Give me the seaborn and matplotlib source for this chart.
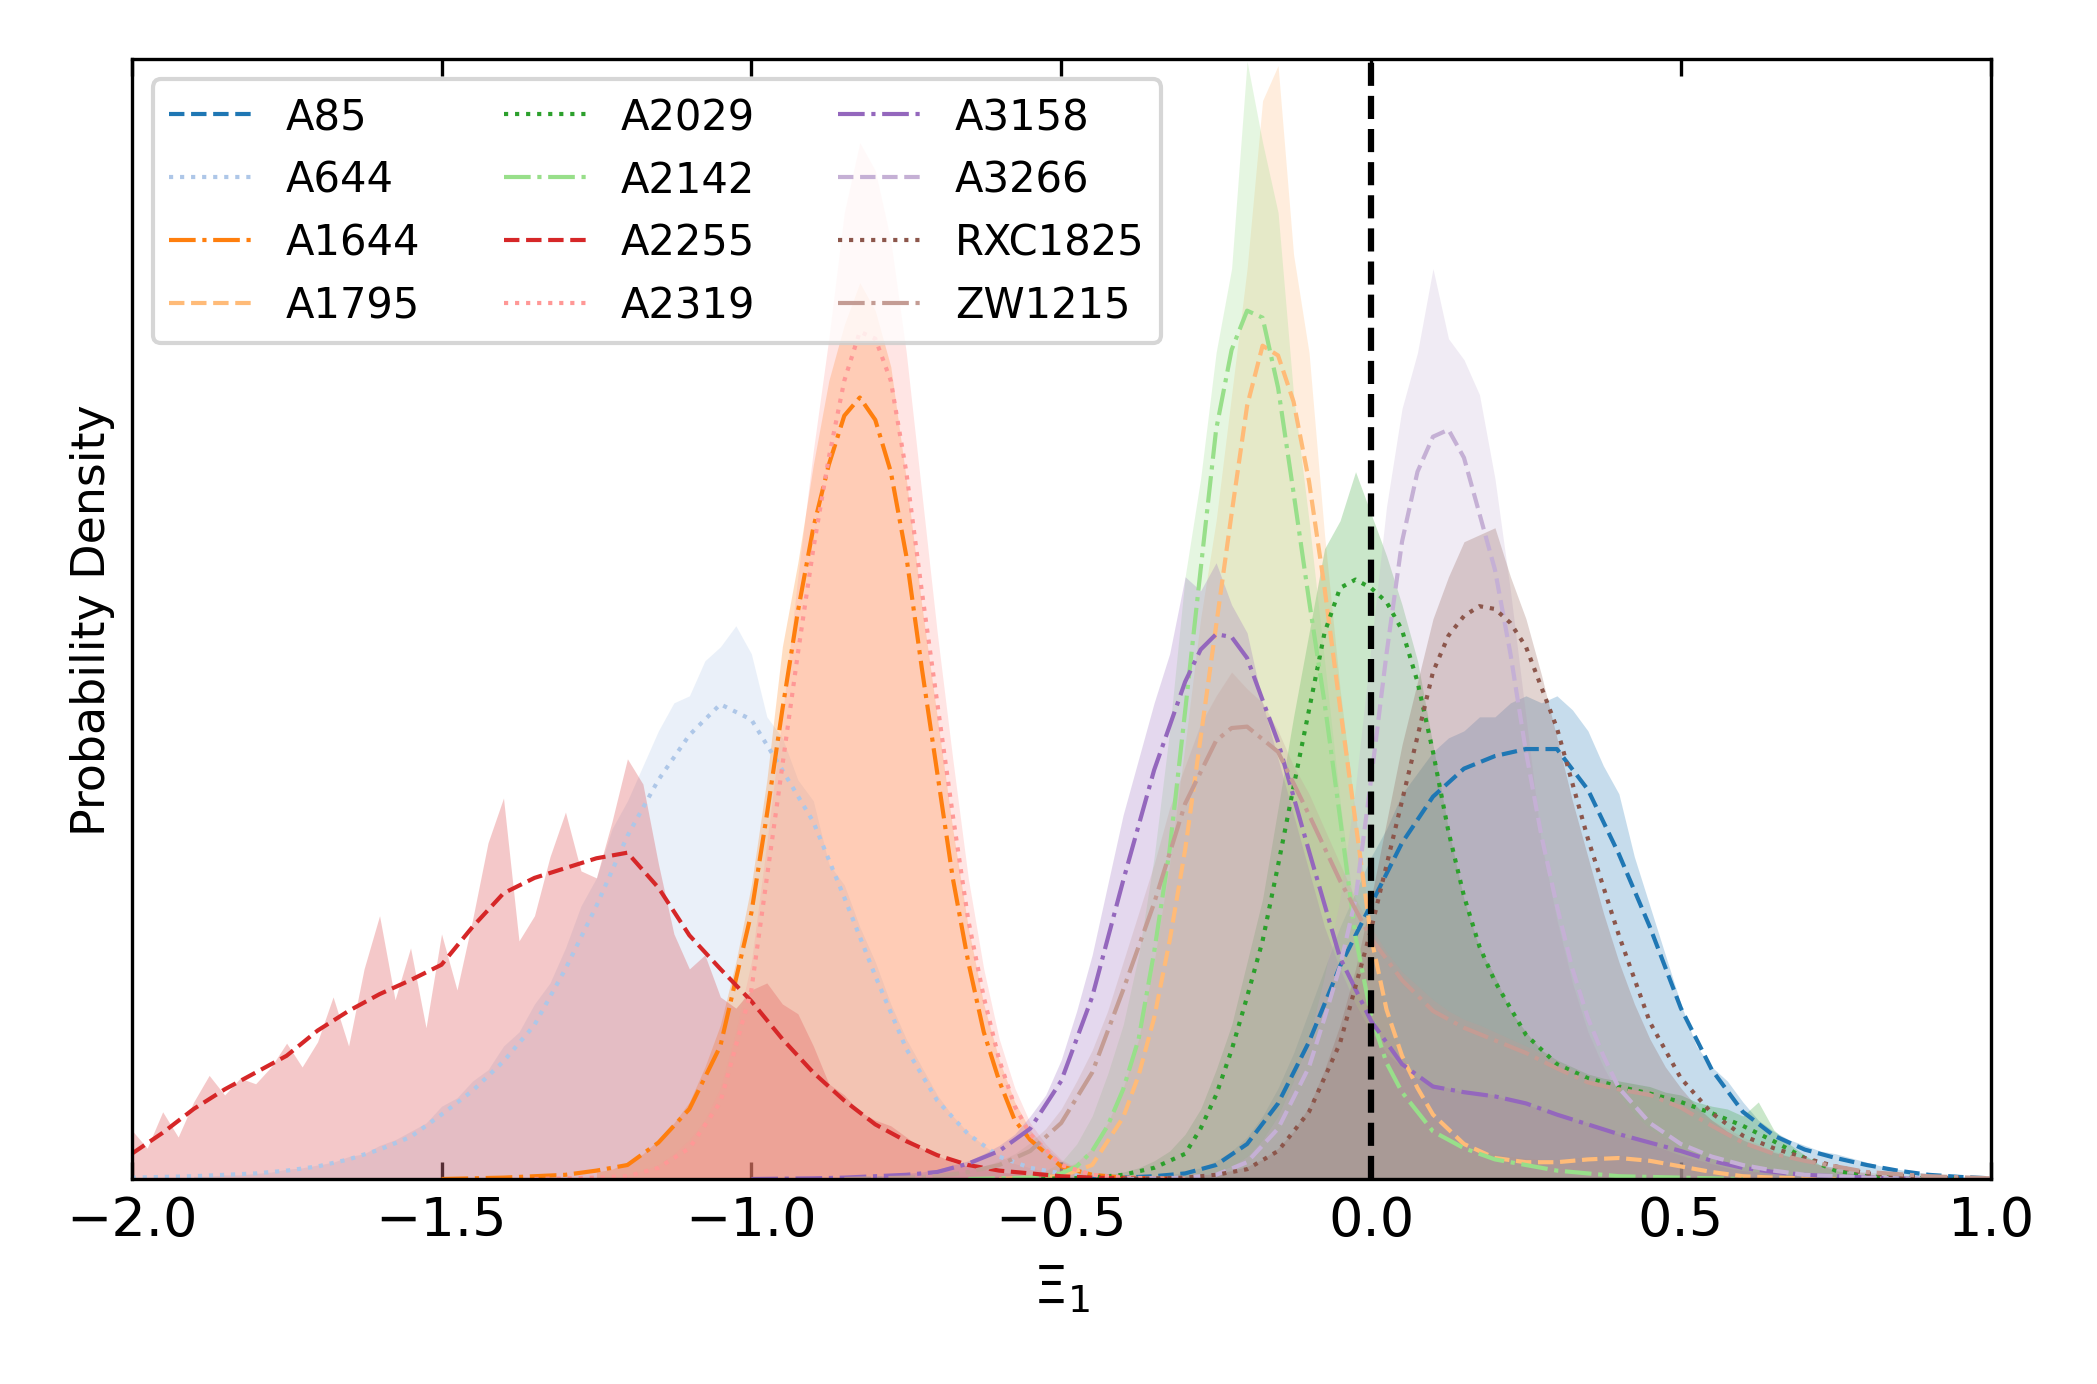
import numpy as np
import matplotlib
matplotlib.use("Agg")
import matplotlib.pyplot as plt
import seaborn as sns

# cluster names, in legend order
clusters = ["A85", "A644", "A1644", "A1795", "A2029", "A2142",
            "A2255", "A2319", "A3158", "A3266", "RXC1825", "ZW1215"]

# smoothed density curves
a85_kde_x = [-0.45, -0.35, -0.3, -0.25, -0.2, -0.15, -0.1, -0.05, 0.0, 0.05, 0.1, 0.15, 0.2, 0.25, 0.3,
             0.35, 0.4, 0.45, 0.5, 0.55, 0.6, 0.65, 0.7, 0.75, 0.8, 0.85, 0.9, 0.95, 1.0]
a85_kde_y = [0.0, 0.02, 0.04, 0.10, 0.25, 0.54, 0.98, 1.52, 1.96, 2.40, 2.73, 2.93, 3.02, 3.07, 3.07,
             2.78, 2.32, 1.80, 1.22, 0.78, 0.48, 0.31, 0.21, 0.15, 0.10, 0.06, 0.03, 0.015, 0.005]

a644_kde_x = [-2.0, -1.95, -1.9, -1.85, -1.8, -1.75, -1.7, -1.65, -1.6, -1.55, -1.5, -1.45, -1.4, -1.35, -1.3,
              -1.25, -1.2, -1.15, -1.1, -1.05, -1.0, -0.95, -0.9, -0.85, -0.8, -0.75, -0.7, -0.65, -0.6,
              -0.55, -0.5, -0.45, -0.4]
a644_kde_y = [0.01, 0.015, 0.02, 0.03, 0.04, 0.06, 0.09, 0.14, 0.21, 0.30, 0.46, 0.63, 0.84, 1.10, 1.50,
              1.95, 2.45, 2.85, 3.17, 3.39, 3.28, 2.92, 2.55, 2.01, 1.45, 0.93, 0.56, 0.32, 0.16,
              0.08, 0.04, 0.01, 0.0]

a1644_kde_x = [-1.5, -1.4, -1.35, -1.3, -1.25, -1.2, -1.15, -1.1, -1.05, -1.0, -0.975, -0.95, -0.925, -0.9,
               -0.875, -0.85, -0.825, -0.8, -0.775, -0.75, -0.725, -0.7, -0.675, -0.65, -0.625, -0.6,
               -0.575, -0.55, -0.5, -0.45, -0.4, -0.3]
a1644_kde_y = [0.0, 0.01, 0.02, 0.03, 0.06, 0.10, 0.26, 0.50, 0.95, 1.90, 2.60, 3.35, 4.05, 4.65,
               5.10, 5.45, 5.58, 5.42, 5.05, 4.45, 3.65, 2.90, 2.15, 1.55, 1.05, 0.70,
               0.42, 0.28, 0.09, 0.03, 0.01, 0.0]

a1795_kde_x = [-0.6, -0.5, -0.45, -0.4, -0.375, -0.35, -0.325, -0.3, -0.275, -0.25, -0.225, -0.2, -0.175, -0.15,
               -0.125, -0.1, -0.075, -0.05, -0.025, 0.0, 0.025, 0.05, 0.075, 0.1, 0.15, 0.2, 0.25, 0.3, 0.35,
               0.4, 0.45, 0.5, 0.55, 0.6, 0.65, 0.75]
a1795_kde_y = [0.0, 0.02, 0.10, 0.44, 0.74, 1.15, 1.70, 2.35, 3.15, 3.95, 4.75, 5.52, 5.95, 5.88,
               5.55, 4.98, 4.22, 3.37, 2.55, 1.73, 1.21, 0.88, 0.65, 0.46, 0.25, 0.15, 0.12, 0.12, 0.14,
               0.15, 0.13, 0.09, 0.05, 0.02, 0.01, 0.0]

a2029_kde_x = [-0.55, -0.45, -0.4, -0.35, -0.3, -0.275, -0.25, -0.225, -0.2, -0.175, -0.15, -0.125, -0.1, -0.075,
               -0.05, -0.025, 0.0, 0.025, 0.05, 0.075, 0.1, 0.125, 0.15, 0.175, 0.2, 0.25, 0.3, 0.35, 0.4,
               0.45, 0.5, 0.55, 0.6, 0.65, 0.7, 0.75, 0.8, 0.85, 0.95]
a2029_kde_y = [0.0, 0.01, 0.03, 0.08, 0.18, 0.36, 0.60, 0.92, 1.30, 1.70, 2.24, 2.80, 3.35, 3.90,
               4.22, 4.28, 4.22, 4.12, 3.92, 3.55, 3.05, 2.48, 2.02, 1.66, 1.41, 1.03, 0.82, 0.72, 0.66,
               0.61, 0.55, 0.47, 0.38, 0.27, 0.15, 0.06, 0.02, 0.01, 0.0]

a2142_kde_x = [-0.65, -0.55, -0.5, -0.475, -0.45, -0.425, -0.4, -0.375, -0.35, -0.325, -0.3, -0.275, -0.25,
               -0.225, -0.2, -0.175, -0.15, -0.125, -0.1, -0.075, -0.05, -0.025, 0.0, 0.025, 0.05, 0.1,
               0.15, 0.2, 0.3, 0.4, 0.5, 0.6]
a2142_kde_y = [0.0, 0.01, 0.04, 0.09, 0.20, 0.38, 0.64, 1.00, 1.62, 2.35, 3.34, 4.35, 5.35,
               5.92, 6.20, 6.15, 5.65, 4.90, 4.13, 3.40, 2.58, 1.73, 1.17, 0.83, 0.62, 0.34,
               0.22, 0.14, 0.06, 0.02, 0.01, 0.0]

a2255_kde_x = [-2.0, -1.95, -1.9, -1.85, -1.8, -1.75, -1.7, -1.65, -1.6, -1.55, -1.5, -1.45, -1.4, -1.35,
               -1.3, -1.25, -1.2, -1.15, -1.1, -1.05, -1.0, -0.95, -0.9, -0.85, -0.8, -0.75, -0.7, -0.65,
               -0.6, -0.55, -0.5, -0.45, -0.4, -0.3]
a2255_kde_y = [0.18, 0.33, 0.50, 0.64, 0.76, 0.88, 1.06, 1.20, 1.32, 1.42, 1.53, 1.80, 2.04, 2.15,
               2.22, 2.29, 2.33, 2.08, 1.74, 1.50, 1.27, 1.00, 0.76, 0.56, 0.39, 0.27, 0.17, 0.10,
               0.06, 0.04, 0.02, 0.01, 0.005, 0.0]

a2319_kde_x = [-1.35, -1.25, -1.2, -1.15, -1.1, -1.05, -1.0, -0.975, -0.95, -0.925, -0.9, -0.875, -0.85, -0.825,
               -0.8, -0.775, -0.75, -0.725, -0.7, -0.675, -0.65, -0.625, -0.6, -0.575, -0.55, -0.5, -0.45,
               -0.4, -0.3]
a2319_kde_y = [0.0, 0.01, 0.02, 0.08, 0.22, 0.55, 1.35, 2.15, 2.95, 3.75, 4.50, 5.15, 5.70, 6.05,
               6.00, 5.70, 5.05, 4.20, 3.40, 2.60, 1.85, 1.30, 0.85, 0.52, 0.32, 0.10, 0.03,
               0.01, 0.0]

a3158_kde_x = [-1.0, -0.9, -0.85, -0.8, -0.75, -0.7, -0.65, -0.6, -0.55, -0.5, -0.45, -0.4, -0.35, -0.3, -0.275,
               -0.25, -0.225, -0.2, -0.15, -0.1, -0.05, 0.0, 0.05, 0.1, 0.15, 0.2, 0.25, 0.3, 0.35, 0.4,
               0.45, 0.5, 0.55, 0.6, 0.65, 0.7, 0.8, 0.9]
a3158_kde_y = [0.0, 0.005, 0.01, 0.02, 0.03, 0.05, 0.11, 0.20, 0.36, 0.70, 1.30, 2.13, 2.92, 3.55, 3.78,
               3.89, 3.87, 3.72, 3.12, 2.34, 1.58, 1.13, 0.82, 0.66, 0.62, 0.59, 0.54, 0.46, 0.39, 0.32,
               0.26, 0.20, 0.13, 0.08, 0.05, 0.03, 0.01, 0.0]

a3266_kde_x = [-0.4, -0.3, -0.25, -0.2, -0.15, -0.1, -0.075, -0.05, -0.025, 0.0, 0.025, 0.05, 0.075, 0.1,
               0.125, 0.15, 0.175, 0.2, 0.225, 0.25, 0.275, 0.3, 0.325, 0.35, 0.375, 0.4, 0.45, 0.5, 0.55,
               0.6, 0.65, 0.7, 0.8, 0.9]
a3266_kde_y = [0.0, 0.01, 0.03, 0.12, 0.36, 0.80, 1.15, 1.52, 2.00, 2.85, 3.75, 4.55, 5.05, 5.30,
               5.35, 5.15, 4.75, 4.35, 3.75, 3.05, 2.45, 1.95, 1.50, 1.15, 0.88, 0.65, 0.40, 0.25, 0.16,
               0.10, 0.06, 0.03, 0.01, 0.0]

rxc1825_kde_x = [-0.4, -0.3, -0.25, -0.2, -0.15, -0.1, -0.05, 0.0, 0.05, 0.1, 0.125, 0.15, 0.175, 0.2, 0.225,
                 0.25, 0.3, 0.35, 0.4, 0.45, 0.5, 0.55, 0.6, 0.65, 0.7, 0.75, 0.8, 0.9, 1.0]
rxc1825_kde_y = [0.0, 0.01, 0.03, 0.07, 0.20, 0.48, 0.97, 1.78, 2.70, 3.62, 3.88, 4.02, 4.09, 4.07, 3.97,
                 3.80, 3.22, 2.43, 1.74, 1.12, 0.72, 0.47, 0.31, 0.22, 0.15, 0.09, 0.04, 0.01, 0.0]

zw1215_kde_x = [-0.85, -0.75, -0.7, -0.65, -0.6, -0.55, -0.5, -0.45, -0.4, -0.35, -0.3, -0.25, -0.225, -0.2,
                -0.15, -0.1, -0.05, 0.0, 0.05, 0.1, 0.15, 0.2, 0.25, 0.3, 0.35, 0.4, 0.45, 0.5, 0.55, 0.6,
                0.65, 0.7, 0.8, 0.9, 1.0]
zw1215_kde_y = [0.0, 0.01, 0.02, 0.05, 0.10, 0.20, 0.40, 0.76, 1.35, 1.97, 2.68, 3.13, 3.22, 3.23,
                3.05, 2.60, 2.13, 1.72, 1.42, 1.20, 1.08, 0.99, 0.90, 0.79, 0.69, 0.64, 0.60, 0.51, 0.38,
                0.26, 0.18, 0.13, 0.05, 0.02, 0.005]

# raw histogram heights, one value every HIST_STEP from the given start
HIST_STEP = 0.025

a85_hist_start = -0.35
a85_hist = [0.02, 0.03, 0.05, 0.08, 0.13, 0.20, 0.30, 0.45, 0.65, 0.90, 1.20, 1.50, 1.80, 2.05,
            2.30, 2.50, 2.75, 2.90, 3.05, 3.15, 3.20, 3.30, 3.30, 3.40, 3.45, 3.40, 3.45, 3.35,
            3.20, 2.95, 2.75, 2.30, 1.95, 1.60, 1.25, 0.95, 0.80, 0.70, 0.55, 0.42, 0.34, 0.28,
            0.24, 0.20, 0.18, 0.15, 0.12, 0.09, 0.07, 0.05, 0.04, 0.03, 0.02, 0.01, 0.00]

a644_hist_start = -1.9
a644_hist = [0.02, 0.02, 0.03, 0.03, 0.04, 0.05, 0.07, 0.08, 0.10, 0.12, 0.16, 0.18, 0.24, 0.28,
             0.34, 0.40, 0.52, 0.58, 0.70, 0.78, 0.95, 1.05, 1.25, 1.40, 1.65, 1.95, 2.15, 2.50,
             2.70, 2.95, 3.20, 3.40, 3.45, 3.70, 3.80, 3.95, 3.75, 3.30, 3.15, 2.85, 2.70, 2.25,
             2.10, 1.80, 1.55, 1.25, 1.00, 0.80, 0.60, 0.45, 0.33, 0.24, 0.16, 0.11, 0.08, 0.05, 0.03]

a1644_hist_start = -1.25
a1644_hist = [0.05, 0.07, 0.12, 0.18, 0.28, 0.40, 0.55, 0.80, 1.10, 1.55, 2.10, 2.85, 3.80, 4.40,
              5.10, 5.70, 6.10, 6.40, 6.20, 5.80, 5.00, 4.10, 3.30, 2.50, 1.80, 1.25, 0.85, 0.55,
              0.35, 0.22, 0.13, 0.07, 0.04]

a1795_hist_start = -0.55
a1795_hist = [0.02, 0.04, 0.07, 0.12, 0.22, 0.40, 0.65, 1.00, 1.55, 2.25, 3.10, 4.00, 4.70, 5.60,
              6.50, 7.70, 7.95, 6.60, 5.90, 4.60, 3.50, 2.60, 1.75, 1.20, 0.90, 0.62, 0.45, 0.32,
              0.25, 0.20, 0.18, 0.16, 0.15, 0.14, 0.14, 0.15, 0.16, 0.17, 0.17, 0.16, 0.14, 0.12,
              0.09, 0.07, 0.05, 0.04, 0.03, 0.02, 0.01, 0.01, 0.00]

a2029_hist_start = -0.45
a2029_hist = [0.02, 0.03, 0.05, 0.08, 0.13, 0.20, 0.32, 0.50, 0.78, 1.10, 1.55, 2.00, 2.65, 3.30,
              3.90, 4.50, 4.70, 5.05, 4.75, 4.45, 4.10, 3.70, 3.10, 2.50, 2.00, 1.65, 1.45, 1.20,
              1.05, 0.92, 0.85, 0.80, 0.75, 0.72, 0.70, 0.68, 0.66, 0.62, 0.60, 0.55, 0.52, 0.50,
              0.45, 0.55, 0.35, 0.25, 0.17, 0.10, 0.06, 0.04, 0.02, 0.01, 0.00]

a2142_hist_start = -0.55
a2142_hist = [0.03, 0.06, 0.12, 0.25, 0.45, 0.75, 1.10, 1.60, 2.30, 3.20, 4.30, 5.00, 5.90, 6.50,
              7.98, 7.40, 6.90, 5.60, 4.70, 3.70, 2.70, 1.85, 1.25, 0.85, 0.60, 0.45, 0.35, 0.27,
              0.21, 0.17, 0.14, 0.11, 0.09, 0.07, 0.05, 0.04, 0.03, 0.02, 0.02, 0.01, 0.00]

a2255_hist_start = -2.0
a2255_hist = [0.35, 0.22, 0.48, 0.30, 0.55, 0.74, 0.60, 0.72, 0.68, 0.80, 0.97, 0.80, 0.98, 1.30,
              0.95, 1.50, 1.88, 1.28, 1.65, 1.08, 1.75, 1.35, 1.85, 2.40, 2.72, 1.70, 1.88, 2.30,
              2.62, 2.20, 2.15, 2.55, 3.00, 2.82, 2.25, 1.75, 1.50, 1.60, 1.30, 1.22, 1.35, 1.40,
              1.25, 1.18, 0.95, 0.68, 0.60, 0.48, 0.42, 0.38, 0.30, 0.22, 0.17, 0.12, 0.09, 0.07,
              0.05, 0.04, 0.03, 0.02, 0.01]

a2319_hist_start = -1.2
a2319_hist = [0.03, 0.06, 0.10, 0.18, 0.28, 0.42, 0.65, 1.05, 1.55, 2.40, 3.30, 4.30, 5.20, 6.00,
              6.90, 7.40, 7.20, 6.70, 5.90, 4.90, 3.90, 3.00, 2.15, 1.50, 1.00, 0.65, 0.40, 0.25,
              0.14, 0.08, 0.04]

a3158_hist_start = -0.8
a3158_hist = [0.02, 0.03, 0.04, 0.05, 0.07, 0.10, 0.13, 0.18, 0.24, 0.32, 0.45, 0.60, 0.85, 1.20,
              1.60, 2.10, 2.60, 3.00, 3.40, 3.75, 4.30, 4.20, 4.40, 4.10, 3.90, 3.40, 3.00, 2.60,
              2.20, 1.80, 1.50, 1.25, 1.05, 0.90, 0.80, 0.72, 0.68, 0.65, 0.62, 0.62, 0.60, 0.56,
              0.53, 0.50, 0.47, 0.43, 0.40, 0.36, 0.32, 0.28, 0.25, 0.21, 0.17, 0.14, 0.11, 0.08,
              0.06, 0.05, 0.04, 0.03, 0.02]

a3266_hist_start = -0.3
a3266_hist = [0.02, 0.03, 0.05, 0.09, 0.16, 0.28, 0.45, 0.70, 1.00, 1.45, 2.00, 2.80, 3.80, 4.80,
              5.50, 5.90, 6.50, 6.00, 5.85, 5.60, 5.00, 4.20, 3.30, 2.40, 1.85, 1.40, 1.05, 0.80,
              0.60, 0.46, 0.36, 0.29, 0.22, 0.17, 0.13, 0.10, 0.07, 0.05, 0.04, 0.03, 0.02, 0.01, 0.00]

rxc1825_hist_start = -0.3
rxc1825_hist = [0.02, 0.03, 0.04, 0.06, 0.09, 0.14, 0.22, 0.34, 0.52, 0.78, 1.10, 1.50, 2.00, 2.55,
                3.10, 3.55, 4.00, 4.30, 4.55, 4.60, 4.65, 4.30, 4.00, 3.60, 3.15, 2.70, 2.30, 1.90,
                1.55, 1.25, 1.00, 0.80, 0.65, 0.52, 0.42, 0.34, 0.28, 0.23, 0.19, 0.16, 0.13, 0.10,
                0.08, 0.06, 0.04, 0.02, 0.01]

zw1215_hist_start = -0.7
zw1215_hist = [0.02, 0.04, 0.06, 0.09, 0.13, 0.18, 0.26, 0.36, 0.50, 0.70, 0.92, 1.20, 1.55, 1.90,
               2.25, 2.65, 2.95, 3.25, 3.45, 3.62, 3.50, 3.40, 3.20, 2.95, 2.75, 2.50, 2.25, 2.00,
               1.80, 1.62, 1.48, 1.38, 1.28, 1.20, 1.14, 1.10, 1.05, 1.00, 0.95, 0.90, 0.84, 0.78,
               0.73, 0.70, 0.68, 0.66, 0.64, 0.60, 0.55, 0.49, 0.42, 0.36, 0.30, 0.25, 0.20, 0.16,
               0.13, 0.10, 0.08, 0.06, 0.05, 0.04, 0.03, 0.02, 0.01]

kde_x = [a85_kde_x, a644_kde_x, a1644_kde_x, a1795_kde_x, a2029_kde_x, a2142_kde_x,
         a2255_kde_x, a2319_kde_x, a3158_kde_x, a3266_kde_x, rxc1825_kde_x, zw1215_kde_x]
kde_y = [a85_kde_y, a644_kde_y, a1644_kde_y, a1795_kde_y, a2029_kde_y, a2142_kde_y,
         a2255_kde_y, a2319_kde_y, a3158_kde_y, a3266_kde_y, rxc1825_kde_y, zw1215_kde_y]
hist_start = [a85_hist_start, a644_hist_start, a1644_hist_start, a1795_hist_start,
              a2029_hist_start, a2142_hist_start, a2255_hist_start, a2319_hist_start,
              a3158_hist_start, a3266_hist_start, rxc1825_hist_start, zw1215_hist_start]
hist_y = [a85_hist, a644_hist, a1644_hist, a1795_hist, a2029_hist, a2142_hist,
          a2255_hist, a2319_hist, a3158_hist, a3266_hist, rxc1825_hist, zw1215_hist]

sns.set_style("ticks", {"axes.edgecolor": "black", "xtick.color": "black",
                        "text.color": "black", "axes.labelcolor": "black"})
plt.rcParams['font.family'] = ['DejaVu Sans']

fig, ax = plt.subplots(figsize=(2097 / 300, 1385 / 300), dpi=300)
fig.subplots_adjust(left=0.0628, right=0.9493, bottom=0.148, top=0.957)

palette = sns.color_palette("tab20", len(clusters))
styles = ["--", ":", "-."]

# histograms first, as light fills
for i, name in enumerate(clusters):
    hy = np.array(hist_y[i])
    hx = hist_start[i] + HIST_STEP * np.arange(len(hy))
    ax.fill_between(hx, hy, color=palette[i], alpha=0.25, linewidth=0)

# smoothed curves on top
for i, name in enumerate(clusters):
    sns.lineplot(x=kde_x[i], y=kde_y[i], color=palette[i], linestyle=styles[i % 3],
                 linewidth=1.0, label=name, ax=ax, sort=False)

ax.axvline(0.0, color="black", linestyle="--", linewidth=1.5)

ax.set_xlim(-2.0, 1.0)
ax.set_ylim(0, 8)
ax.set_xticks([-2.0, -1.5, -1.0, -0.5, 0.0, 0.5, 1.0])
ax.set_yticks([])
ax.tick_params(axis="x", direction="in", top=True, length=4, labelsize=13)
ax.set_xlabel(r"$\Xi_1$", fontsize=13)
ax.set_ylabel("Probability Density", fontsize=11)

ax.legend(loc="upper left", ncol=3, fontsize=10, frameon=True)

fig.savefig("out.png", dpi=300)
